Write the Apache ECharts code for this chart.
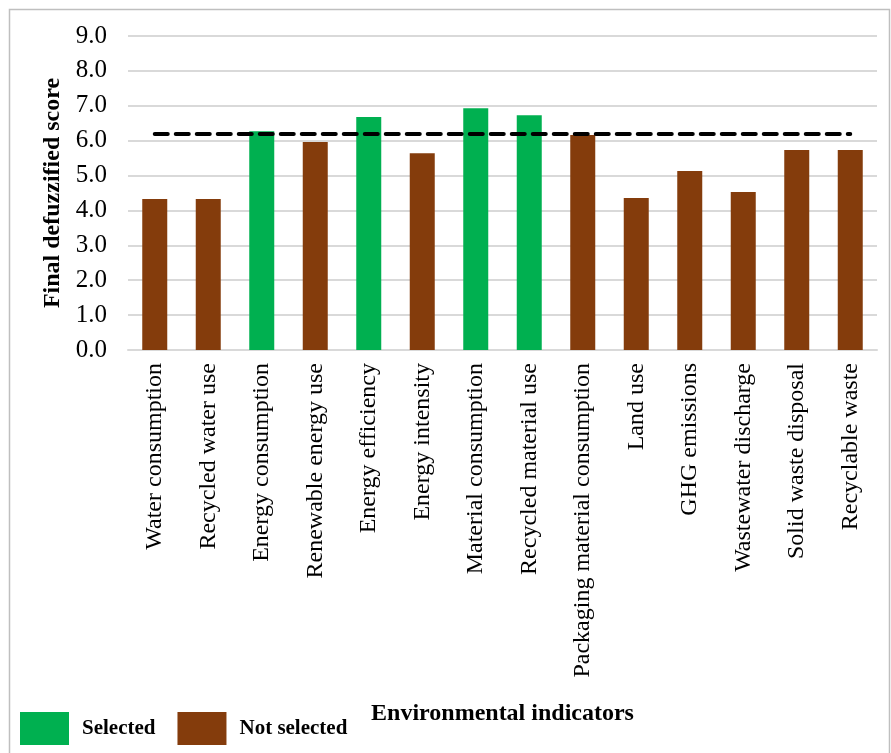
<!DOCTYPE html>
<html>
<head>
<meta charset="utf-8">
<script src="https://cdn.jsdelivr.net/npm/echarts@6/dist/echarts.min.js"></script>
<style>
  html, body { margin: 0; padding: 0; background: #fff; }
  #chart { width: 891px; height: 753px; }
</style>
</head>
<body>
<div id="chart"></div>
<script>
// indicators, as they appear left to right
const categories = [
  "Water consumption",
  "Recycled water use",
  "Energy consumption",
  "Renewable energy use",
  "Energy efficiency",
  "Energy intensity",
  "Material consumption",
  "Recycled material use",
  "Packaging material consumption",
  "Land use",
  "GHG emissions",
  "Wastewater discharge",
  "Solid waste disposal",
  "Recyclable waste"
];
const scores = [4.33, 4.33, 6.27, 5.96, 6.68, 5.64, 6.93, 6.73, 6.16, 4.36, 5.13, 4.53, 5.73, 5.73];
const selected = [0, 0, 1, 0, 1, 0, 1, 1, 0, 0, 0, 0, 0, 0];
const threshold = 6.19;
const yTicks = [0, 1, 2, 3, 4, 5, 6, 7, 8, 9];

const GREEN = "#00B050";
const BROWN = "#843C0C";
const FONT = "Liberation Serif";

const selData = scores.map((v, i) => (selected[i] ? v : "-"));
const notSelData = scores.map((v, i) => (selected[i] ? "-" : v));
const lineData = categories.map(() => threshold);

const chart = echarts.init(document.getElementById("chart"));

const option = {
  animation: false,
  textStyle: { fontFamily: FONT, color: "#000" },
  grid: {
    left: 128,
    right: 14,
    top: 36,
    bottom: 403,
    containLabel: false,
    outerBoundsMode: "none"
  },
  legend: {
    left: 20,
    top: 712,
    padding: 0,
    orient: "horizontal",
    itemWidth: 49,
    itemHeight: 33,
    itemGap: 22,
    icon: "rect",
    data: ["Selected", "Not selected"],
    textStyle: {
      fontFamily: FONT,
      fontSize: 21,
      fontWeight: "bold",
      color: "#000",
      padding: [9, 0, 0, 8]
    }
  },
  xAxis: {
    type: "category",
    data: categories,
    name: "Environmental indicators",
    nameLocation: "middle",
    nameGap: 352,
    nameTextStyle: { fontFamily: FONT, fontSize: 24, fontWeight: "bold", color: "#000" },
    axisLine: { show: true, lineStyle: { color: "#d9d9d9", width: 2 } },
    axisTick: { show: false },
    axisLabel: {
      rotate: 90,
      interval: 0,
      margin: 13,
      fontFamily: FONT,
      fontSize: 24,
      color: "#000"
    }
  },
  yAxis: {
    type: "value",
    min: yTicks[0],
    max: yTicks[yTicks.length - 1],
    interval: 1,
    name: "Final defuzzified score",
    nameLocation: "middle",
    nameGap: 63,
    nameTextStyle: { fontFamily: FONT, fontSize: 24, fontWeight: "bold", color: "#000" },
    axisLine: { show: false },
    axisTick: { show: false },
    axisLabel: {
      margin: 21,
      fontFamily: FONT,
      fontSize: 25,
      color: "#000",
      formatter: v => v.toFixed(1)
    },
    splitLine: { lineStyle: { color: "#d9d9d9", width: 2 } }
  },
  series: [
    {
      name: "Selected",
      type: "bar",
      data: selData,
      barWidth: 25,
      barGap: "-100%",
      itemStyle: { color: GREEN }
    },
    {
      name: "Not selected",
      type: "bar",
      data: notSelData,
      barWidth: 25,
      barGap: "-100%",
      itemStyle: { color: BROWN }
    },
    {
      name: "Threshold",
      type: "line",
      data: lineData,
      symbol: "none",
      z: 5,
      lineStyle: { color: "#000", width: 4, type: [13, 8], cap: "round" }
    }
  ],
  graphic: [
    {
      type: "rect",
      silent: true,
      shape: { x: 9.5, y: 9.5, width: 880, height: 800 },
      style: { fill: "none", stroke: "#bfbfbf", lineWidth: 1.5 }
    }
  ]
};

chart.setOption(option);
</script>
</body>
</html>
